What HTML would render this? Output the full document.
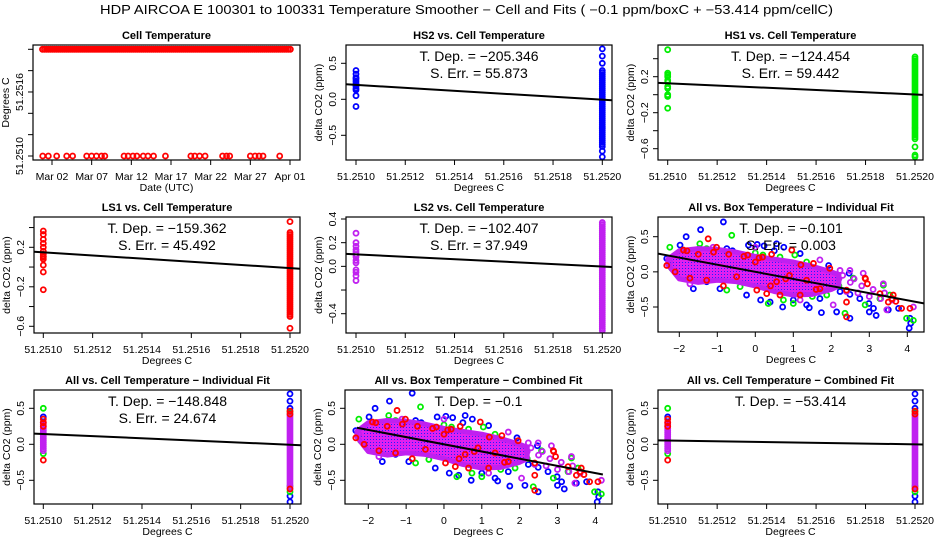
<!DOCTYPE html>
<html><head><meta charset="utf-8"><title>HDP AIRCOA E Temperature Smoother</title>
<style>
html,body{margin:0;padding:0;background:#fff;}
svg{display:block;font-family:"Liberation Sans",Arial,sans-serif;}
</style></head>
<body>
<svg id="chart" xmlns="http://www.w3.org/2000/svg" width="936" height="540" viewBox="0 0 936 540">
<defs>
<pattern id="purp" width="3" height="3" patternUnits="userSpaceOnUse">
<rect width="3" height="3" fill="#e020f0"/><rect x="1" y="1" width="1" height="1" fill="#2020ff"/>
</pattern>
</defs>
<text x="100" y="14" font-size="12.5" textLength="733" lengthAdjust="spacingAndGlyphs">HDP   AIRCOA E   100301 to 100331   Temperature Smoother − Cell and Fits ( −0.1  ppm/boxC +  −53.414  ppm/cellC)</text>
</svg>
<script>
// ---------- data ----------
const cellHighValue = 51.2520;
const cellLowValue = 51.2510;
const cellHighStartDay = -0.2, cellHighEndDay = 31.2;
const cellLowDays = [-0.17,0.54,1.59,2.85,3.6,5.37,5.99,6.6,7.24,7.66,10.08,10.6,11.2,11.7,12.5,13.1,13.8,15.3,18.5,19.0,19.6,20.3,22.5,23.0,23.4,26.0,26.6,27.1,27.6,29.7];
const dateTicks = [2,7,12,17,22,27,32];
const dateLabels = ["Mar 02","Mar 07","Mar 12","Mar 17","Mar 22","Mar 27","Apr 01"];
const cellTempTicks = [51.2510,51.2512,51.2514,51.2516,51.2518,51.2520];
const cellTempLabels = ["51.2510","","","51.2516","",""];
const tempTicks = [51.2510,51.2512,51.2514,51.2516,51.2518,51.2520];
const tempLabels = ["51.2510","51.2512","51.2514","51.2516","51.2518","51.2520"];
const boxTicks = [-2,-1,0,1,2,3,4];
const boxLabels = ["−2","−1","0","1","2","3","4"];

const hs2Left = [0.4,0.35,0.3,0.28,0.25,0.22,0.2,0.18,0.15,0.13,0.05,-0.1];
const hs2RightCore = [-0.68,0.4];
const hs2RightOut = [0.7,0.6,0.5,-0.72,-0.8];
const hs2Fit = [0.2,-205.346];
const hs1Left = [0.5,0.24,0.22,0.2,0.16,0.14,0.09,0.07,0.0,-0.01,-0.02,-0.15];
const hs1RightCore = [-0.5,0.42];
const hs1RightOut = [-0.58,-0.67,-0.69];
const hs1Fit = [0.127,-124.454];
const ls1Left = [0.365,0.33,0.28,0.24,0.2,0.16,0.13,0.11,0.1,0.08,0.02,-0.05,-0.23];
const ls1RightCore = [-0.5,0.35];
const ls1RightOut = [0.46,-0.62];
const ls1Fit = [0.149,-159.362];
const ls2Left = [0.28,0.2,0.17,0.14,0.12,0.1,0.08,0.05,0.03,-0.03,-0.05,-0.08,-0.12];
const ls2RightCore = [-0.55,0.37];
const ls2RightOut = [];
const ls2Fit = [0.101,-102.407];
const allLeftCore = [-0.1,0.3];
const allLeftGreen = [0.5,-0.13];
const allLeftBlue = [0.38];
const allLeftRed = [0.35,0.3,0.25,-0.22];
const allRightCore = [-0.62,0.42];
const allRightBlue = [0.7,0.6,0.5,-0.72,-0.8];
const allRightRed = [0.46,0.42,-0.62];
const allRightGreen = [0.45,-0.58,-0.66];
const allIndFit = [0.143,-148.848];
const allCombFit = [0.053,-53.414];

const blueX = [-0.84,-1.44,-1.82,-1.98,-0.18,0.05,0.23,0.56,0.75,1.18,1.68,1.93,2.14,2.47,2.23,2.49,2.75,2.99,3.11,1.70,1.35,1.00,0.72,1.42,1.74,2.14,2.49,3.00,3.18,3.50,4.07,4.09,4.05,3.77,0.39,0.14,-0.23,-0.58,-0.93,-1.28,-1.63,-2.33,-1.47,-0.75,-1.6,-0.6,0.5];
const blueY = [0.71,0.60,0.50,0.38,0.38,0.39,0.37,0.40,0.35,0.26,0.0,0.09,-0.13,-0.02,-0.28,-0.32,-0.38,-0.45,-0.52,-0.38,-0.47,-0.40,-0.50,-0.51,-0.58,-0.57,-0.66,-0.57,-0.62,-0.54,-0.66,-0.73,-0.80,-0.52,-0.43,-0.40,-0.33,-0.02,-0.24,-0.14,-0.24,0.19,0.33,0.33,0.3,0.3,0.3];
const greenX = [-2.25,-2.2,-1.46,-0.62,-1.28,0.0,0.2,0.65,1.04,1.35,2.05,2.14,2.36,2.89,3.37,3.28,3.98,4.16,0.34,0.74,1.0,1.88,-0.75,-0.4,-1.98,-1.54,1.61,2.58,3.54,-1.3,1.5,2.2];
const greenY = [0.35,0.05,0.40,0.52,0.33,0.27,0.24,0.21,0.24,0.14,-0.07,-0.19,-0.59,-0.47,-0.19,-0.38,-0.66,-0.69,-0.45,-0.40,-0.45,-0.33,-0.26,-0.21,0.28,-0.07,-0.28,-0.09,-0.33,0.3,-0.35,-0.2];
const redX = [-2.33,-2.11,-1.89,-1.24,-1.02,0.0,0.19,0.43,0.96,1.53,1.96,2.4,2.4,2.89,2.95,3.63,3.85,4.07,-1.72,-1.28,-0.84,0.04,0.3,0.65,1.18,1.7,2.4,1.35,0.56,-0.49,3.28,3.5,-1.8,-1.5,-1.1,-0.7,-0.3,0.1,0.4,0.8,1.2,1.6,-0.2,0.9,2.9,3.6,3.7];
const redY = [0.09,0.0,0.31,0.47,0.35,0.14,0.21,0.25,0.31,0.12,0.05,-0.43,-0.64,-0.09,-0.17,-0.33,-0.52,-0.52,-0.09,-0.12,-0.2,-0.26,-0.31,-0.33,-0.33,-0.24,-0.26,-0.12,-0.14,-0.07,-0.31,-0.43,0.3,0.25,0.28,0.25,0.22,0.2,-0.2,-0.1,0.1,-0.25,0.24,-0.05,-0.1,-0.38,-0.42];
const purpleX = [-2.25,-1.72,0.0,1.7,2.23,2.49,2.84,3.37,4.16,3.46,2.05,1.18,-1.11,2.2,2.5,2.8,3.1,3.4,2.4,2.7,3.0,3.3,3.6,2.3,2.6];
const purpleY = [0.14,-0.17,0.35,0.17,0.02,0.02,-0.02,-0.17,-0.5,-0.54,-0.47,-0.4,0.35,-0.1,-0.15,-0.2,-0.25,-0.3,-0.28,-0.3,-0.35,-0.38,-0.4,-0.05,-0.1];
const bandX = [-2.3,-2.0,-1.5,-1.0,-0.5,0,0.5,1.0,1.5,2.0,2.2];
const bandHi = [0.18,0.3,0.33,0.32,0.28,0.22,0.18,0.14,0.08,0.0,-0.04];
const bandLo = [0.1,-0.1,-0.15,-0.12,-0.14,-0.2,-0.28,-0.33,-0.32,-0.25,-0.2];
const boxIndSlope = -0.101;
const boxCombSlope = -0.1;

// ---------- drawing ----------
const NS="http://www.w3.org/2000/svg";
const svg=document.getElementById('chart');
function el(tag,attrs,parent){const e=document.createElementNS(NS,tag);for(const k in attrs)e.setAttribute(k,attrs[k]);(parent||svg).appendChild(e);return e;}
const COL={red:"#ff0000",blue:"#0000ff",green:"#00ee00",purple:"url(#purp)",purpleS:"#c020f0"};
const R=2.5, SW=1.8;

function panel(p){
  const g=el('g',{});
  
  
  const [l,t,r,b]=p.box;
  const sx=v=>p.xa[1]+(v-p.xa[0])*(p.xb[1]-p.xa[1])/(p.xb[0]-p.xa[0]);
  const sy=v=>p.ya[1]+(v-p.ya[0])*(p.yb[1]-p.ya[1])/(p.yb[0]-p.ya[0]);
  const cid='clip-'+p.name;
  const cp=el('clipPath',{id:cid},g);el('rect',{x:l,y:t,width:r-l,height:b-t},cp);
  const plot=el('g',{'clip-path':'url(#'+cid+')'},g);
  const bx=el('rect',{x:l,y:t,width:r-l,height:b-t,fill:'none',stroke:'#000','stroke-width':1.2},g);
  
  
  const tt=el('text',{x:(l+r)/2,y:t-6,'text-anchor':'middle','font-size':11,'font-weight':'bold'},g);
  tt.textContent=p.title;
  
  
  p.xt.forEach((v,i)=>{
    const x=sx(v);
    const tk=el('line',{x1:x,y1:b,x2:x,y2:b+5,stroke:'#000'},g);
    
    
    if(p.xl[i]){const tx=el('text',{x:x,y:b+20,'text-anchor':'middle','font-size':10.5},g);tx.textContent=p.xl[i];
      
      }
  });
  p.yt.forEach((v,i)=>{
    const y=sy(v);
    const tk=el('line',{x1:l-5,y1:y,x2:l,y2:y,stroke:'#000'},g);
    
    
    if(p.yl[i]){const tx=el('text',{x:l-10,y:y,'text-anchor':'middle','font-size':10.5,transform:`rotate(-90 ${l-10} ${y})`},g);tx.textContent=p.yl[i];
      
      }
  });
  const xt=el('text',{x:(l+r)/2,y:b+31,'text-anchor':'middle','font-size':10.5},g);xt.textContent=p.xlab;
  
  
  const yx=l-24,yy=(t+b)/2;
  const yt=el('text',{x:yx,y:yy,'text-anchor':'middle','font-size':10.5,transform:`rotate(-90 ${yx} ${yy})`},g);yt.textContent=p.ylab;
  
  
  const annG=el('g',{},g);
  return {g,plot,sx,sy,box:p.box,ann:p.ann,annG};
}
function drawAnn(P){
  const [l,t,r]=P.box;
  (P.ann||[]).forEach((s,i)=>{const a=el('text',{x:(l+r)/2,y:t+16+i*17,'text-anchor':'middle','font-size':14},P.g);a.textContent=s;
    
    });
}
function pt(P,x,y,c){
  const e=el('circle',{cx:P.sx(x),cy:P.sy(y),r:R,fill:'none',stroke:c,'stroke-width':SW},P.plot);
  
  
}
function core(P,xv,range,c){
  const y0=P.sy(range[1]),y1=P.sy(range[0]);
  for(let y=y0;y<=y1+0.1;y+=2){
    const e=el('circle',{cx:P.sx(xv),cy:y,r:R,fill:'none',stroke:c,'stroke-width':SW},P.plot);
    
    
  }
}
function fitLine(P,y0,slope){
  const [l,,r]=P.box;
  const k=(P.sx(cellHighValue)-P.sx(cellLowValue))/0.001;
  const xv0=cellLowValue+(l-P.sx(cellLowValue))/k;
  const xv1=cellLowValue+(r-P.sx(cellLowValue))/k;
  const ln=el('line',{x1:l,y1:P.sy(y0+slope*(xv0-cellLowValue)),x2:r,y2:P.sy(y0+slope*(xv1-cellLowValue)),stroke:'#000','stroke-width':2},P.plot);
  
  
}
function stripPanel(P,left,rcore,rout,col,fit){
  left.forEach(v=>pt(P,cellLowValue,v,col));
  core(P,cellHighValue,rcore,col);
  rout.forEach(v=>pt(P,cellHighValue,v,col));
  fitLine(P,fit[0],fit[1]);
  drawAnn(P);
}
function allStrip(P,fit){
  allLeftBlue.forEach(v=>pt(P,cellLowValue,v,COL.blue));
  allLeftGreen.forEach(v=>pt(P,cellLowValue,v,COL.green));
  core(P,cellLowValue,allLeftCore,COL.purpleS);
  allLeftRed.forEach(v=>pt(P,cellLowValue,v,COL.red));
  allRightBlue.forEach(v=>pt(P,cellHighValue,v,COL.blue));
  allRightGreen.forEach(v=>pt(P,cellHighValue,v,COL.green));
  core(P,cellHighValue,allRightCore,COL.purpleS);
  allRightRed.forEach(v=>pt(P,cellHighValue,v,COL.red));
  fitLine(P,fit[0],fit[1]);
  drawAnn(P);
}
function boxScatter(P,slope,full){
  blueX.forEach((x,i)=>pt(P,x,blueY[i],COL.blue));
  greenX.forEach((x,i)=>pt(P,x,greenY[i],COL.green));
  let d='';
  bandX.forEach((x,i)=>{d+=(i?'L':'M')+P.sx(x)+' '+P.sy(bandHi[i]);});
  for(let i=bandX.length-1;i>=0;i--)d+='L'+P.sx(bandX[i])+' '+P.sy(bandLo[i]);
  const band=el('path',{d:d+'Z',fill:COL.purple,stroke:COL.purpleS,'stroke-width':5,'stroke-linejoin':'round'},P.plot);
  
  
  purpleX.forEach((x,i)=>pt(P,x,purpleY[i],COL.purpleS));
  redX.forEach((x,i)=>pt(P,x,redY[i],COL.red));
  const [l,,r]=P.box;
  const xs=full?[(l-P.sx(0))/(P.sx(1)-P.sx(0)),(r-P.sx(0))/(P.sx(1)-P.sx(0))]:[-2.3,4.2];
  const ln=el('line',{x1:P.sx(xs[0]),y1:P.sy(slope*xs[0]),x2:P.sx(xs[1]),y2:P.sy(slope*xs[1]),stroke:'#000','stroke-width':2},P.plot);
  
  
  drawAnn(P);
}

const yCO2="delta CO2 (ppm)";
const P1=panel({name:'cell-temperature-panel',box:[33,45,300,160],xa:[2,52],xb:[32,290],ya:[51.2510,156],yb:[51.2520,49.3],
  xt:dateTicks,xl:dateLabels,yt:cellTempTicks,yl:cellTempLabels,title:'Cell Temperature',xlab:'Date (UTC)',ylab:'Degrees C'});
for(let d=cellHighStartDay;d<=cellHighEndDay;d+=0.25)pt(P1,d+1,cellHighValue,COL.red);
cellLowDays.forEach(d=>pt(P1,d+1,cellLowValue,COL.red));

const P2=panel({name:'hs2-panel',box:[346,45,612,160],xa:[51.2510,356],xb:[51.2520,602.3],ya:[0,99.3],yb:[0.5,63.3],
  xt:tempTicks,xl:tempLabels,yt:[-0.5,0,0.5],yl:["−0.5","0.0","0.5"],title:'HS2 vs. Cell Temperature',xlab:'Degrees C',ylab:yCO2,
  ann:["T. Dep. =  −205.346","S. Err. =  55.873"]});
stripPanel(P2,hs2Left,hs2RightCore,hs2RightOut,COL.blue,hs2Fit);

const P3=panel({name:'hs1-panel',box:[658,45,923,160],xa:[51.2510,667.7],xb:[51.2520,915],ya:[0.2,76.7],yb:[-0.6,148.7],
  xt:tempTicks,xl:tempLabels,yt:[-0.6,-0.4,-0.2,0,0.2,0.4],yl:["−0.6","","−0.2","","0.2",""],title:'HS1 vs. Cell Temperature',xlab:'Degrees C',ylab:yCO2,
  ann:["T. Dep. =  −124.454","S. Err. =  59.442"]});
stripPanel(P3,hs1Left,hs1RightCore,hs1RightOut,COL.green,hs1Fit);

const P4=panel({name:'ls1-panel',box:[34,217,300,333],xa:[51.2510,43.3],xb:[51.2520,290],ya:[0.2,247.3],yb:[-0.6,326.3],
  xt:tempTicks,xl:tempLabels,yt:[-0.6,-0.4,-0.2,0,0.2,0.4],yl:["−0.6","","−0.2","","0.2",""],title:'LS1 vs. Cell Temperature',xlab:'Degrees C',ylab:yCO2,
  ann:["T. Dep. =  −159.362","S. Err. =  45.492"]});
stripPanel(P4,ls1Left,ls1RightCore,ls1RightOut,COL.red,ls1Fit);

const P5=panel({name:'ls2-panel',box:[346,217,612,333],xa:[51.2510,356],xb:[51.2520,602.3],ya:[0.4,219],yb:[-0.4,313.7],
  xt:tempTicks,xl:tempLabels,yt:[-0.4,-0.2,0,0.2,0.4],yl:["−0.4","","0.0","0.2","0.4"],title:'LS2 vs. Cell Temperature',xlab:'Degrees C',ylab:yCO2,
  ann:["T. Dep. =  −102.407","S. Err. =  37.949"]});
stripPanel(P5,ls2Left,ls2RightCore,ls2RightOut,COL.purpleS,ls2Fit);

const P6=panel({name:'all-box-individual-panel',box:[658,217,924,332],xa:[-2,679.3],xb:[4,907.3],ya:[0.5,236.7],yb:[-0.5,307],
  xt:boxTicks,xl:boxLabels,yt:[-0.5,0,0.5],yl:["−0.5","0.0","0.5"],title:'All vs. Box Temperature − Individual Fit',xlab:'Degrees C',ylab:yCO2,
  ann:["T. Dep. =  −0.101","S. Err. =  0.003"]});
boxScatter(P6,boxIndSlope,true);

const P7=panel({name:'all-cell-individual-panel',box:[34,390,301,504],xa:[51.2510,43.3],xb:[51.2520,290],ya:[0.5,408.3],yb:[-0.5,480.3],
  xt:tempTicks,xl:tempLabels,yt:[-0.5,0,0.5],yl:["−0.5","0.0","0.5"],title:'All vs. Cell Temperature − Individual Fit',xlab:'Degrees C',ylab:yCO2,
  ann:["T. Dep. =  −148.848","S. Err. =  24.674"]});
allStrip(P7,allIndFit);

const P8=panel({name:'all-box-combined-panel',box:[345,390,612,504],xa:[-2,368.3],xb:[4,595.3],ya:[0.5,408.3],yb:[-0.5,480.3],
  xt:boxTicks,xl:boxLabels,yt:[-0.5,0,0.5],yl:["−0.5","0.0","0.5"],title:'All vs. Box Temperature − Combined Fit',xlab:'Degrees C',ylab:yCO2,
  ann:["T. Dep. =  −0.1"]});
boxScatter(P8,boxCombSlope,false);

const P9=panel({name:'all-cell-combined-panel',box:[658,390,923,504],xa:[51.2510,667.7],xb:[51.2520,915],ya:[0.5,408.3],yb:[-0.5,480.3],
  xt:tempTicks,xl:tempLabels,yt:[-0.5,0,0.5],yl:["−0.5","0.0","0.5"],title:'All vs. Cell Temperature − Combined Fit',xlab:'Degrees C',ylab:yCO2,
  ann:["T. Dep. =  −53.414"]});
allStrip(P9,allCombFit);
</script>
</body></html>
